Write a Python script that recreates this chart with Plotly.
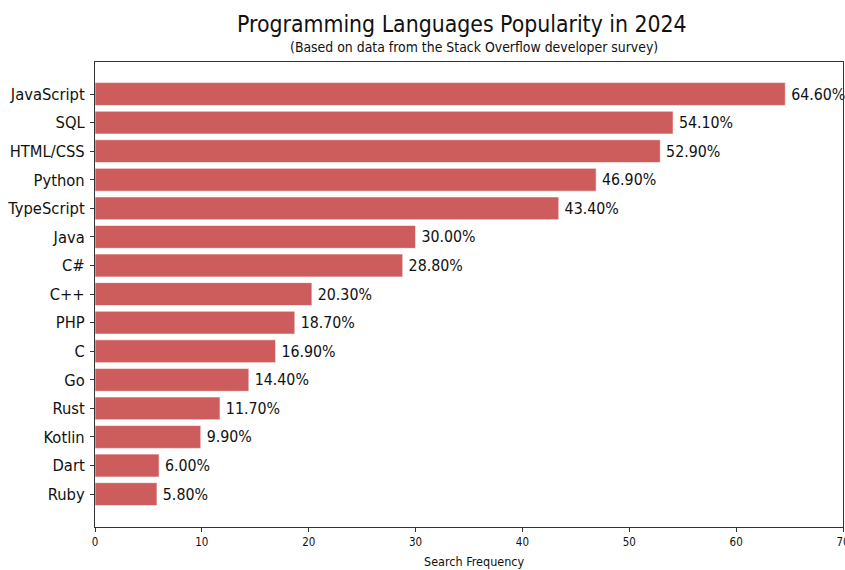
import plotly.graph_objects as go

languages = ["JavaScript", "SQL", "HTML/CSS", "Python", "TypeScript", "Java", "C#",
             "C++", "PHP", "C", "Go", "Rust", "Kotlin", "Dart", "Ruby"]
popularity = [64.6, 54.1, 52.9, 46.9, 43.4, 30.0, 28.8, 20.3, 18.7, 16.9, 14.4, 11.7, 9.9, 6.0, 5.8]
x_ticks = [0, 10, 20, 30, 40, 50, 60, 70]

FONT = "DejaVu Sans Condensed, DejaVu Sans, sans-serif"
n = len(languages)
ypos = [n - 1 - i for i in range(n)]

W, H = 845, 570
ML, MR, MT, MB = 95, 2, 62, 43
pw = W - ML - MR
ph = H - MT - MB


def px_x(x):
    return (x - ML) / pw


def px_y(y):
    return (H - MB - y) / ph


fig = go.Figure(go.Bar(
    x=popularity, y=ypos, orientation="h",
    marker=dict(color="#CD5C5C", line=dict(color="rgba(255,255,255,0.6)", width=1)),
    width=0.8,
    text=[f"\u2009{v:.2f}%" for v in popularity],
    textposition="outside", constraintext="none", cliponaxis=False,
    textfont=dict(family=FONT, size=15.8, color="#111111"),
    hoverinfo="skip",
))

fig.update_layout(
    width=W, height=H,
    margin=dict(l=ML, r=MR, t=MT, b=MB),
    plot_bgcolor="white", paper_bgcolor="white",
    showlegend=False,
    font=dict(family=FONT, color="#111111"),
    annotations=[
        dict(text="Programming Languages Popularity in 2024", x=px_x(462), y=px_y(24),
             xref="paper", yref="paper", xanchor="center", yanchor="middle",
             showarrow=False, font=dict(size=22.8, family=FONT, color="#111111")),
        dict(text="(Based on data from the Stack Overflow developer survey)", x=px_x(474), y=px_y(47),
             xref="paper", yref="paper", xanchor="center", yanchor="middle",
             showarrow=False, font=dict(size=13.9, family=FONT, color="#111111")),
        dict(text="Search Frequency", x=px_x(474), y=px_y(561),
             xref="paper", yref="paper", xanchor="center", yanchor="middle",
             showarrow=False, font=dict(size=12.5, family=FONT, color="#111111")),
    ],
)

fig.update_xaxes(
    range=[0, 70], tickvals=x_ticks, ticktext=[str(t) for t in x_ticks],
    showgrid=False, zeroline=False, showline=True, linecolor="#333333", linewidth=1, mirror=True,
    ticks="outside", ticklen=4, tickcolor="#333333", tickfont=dict(size=11.5),
    ticklabeloverflow="allow", automargin=False,
)
fig.update_yaxes(
    range=[-1.15, n - 1 + 1.12], tickvals=ypos, ticktext=languages,
    showgrid=False, zeroline=False, showline=True, linecolor="#333333", linewidth=1, mirror=True,
    ticks="outside", ticklen=4, tickcolor="#333333", tickfont=dict(size=16.4),
    ticklabelstandoff=2, automargin=False,
)

fig.write_html(
    "out.html",
    config={"displayModeBar": False},
    post_script="document.body.style.margin='0';document.documentElement.style.overflow='hidden';",
)
